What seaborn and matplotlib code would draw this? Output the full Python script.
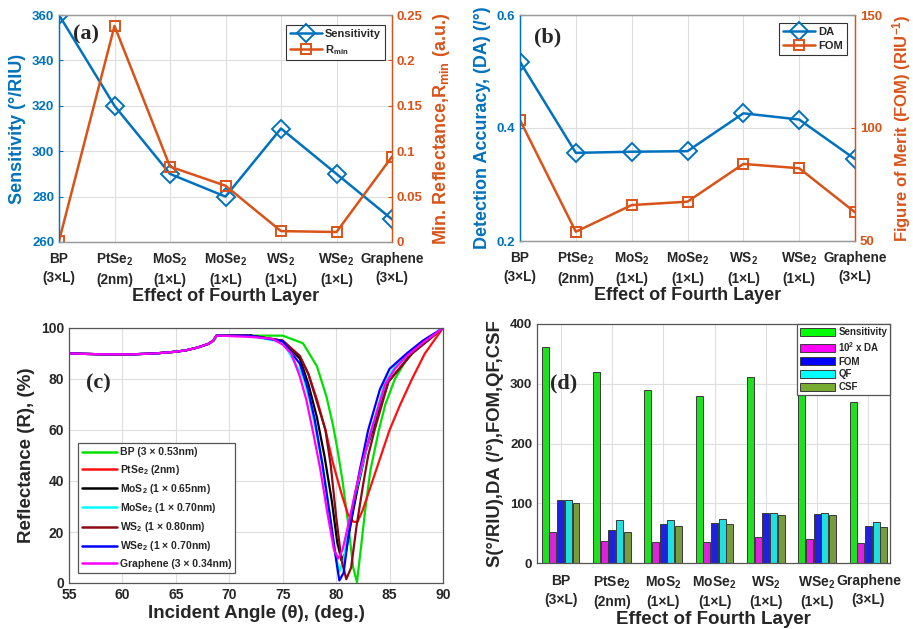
import matplotlib
matplotlib.use("Agg")
import matplotlib.pyplot as plt
import numpy as np
import pandas as pd
import seaborn as sns
from matplotlib.lines import Line2D
from matplotlib.patches import Patch

# ---------------- data ----------------
categories = ["BP\n(3×L)", "PtSe$_2$\n(2nm)", "MoS$_2$\n(1×L)", "MoSe$_2$\n(1×L)",
              "WS$_2$\n(1×L)", "WSe$_2$\n(1×L)", "Graphene\n(3×L)"]
sensitivity = [360, 320, 290, 280, 310, 290, 270]
r_min = [0.001, 0.238, 0.083, 0.062, 0.012, 0.011, 0.094]
detection_accuracy = [0.517, 0.356, 0.358, 0.359, 0.426, 0.415, 0.345]
fom = [103.5, 54.1, 65.9, 67.4, 84.1, 82.2, 62.7]

# panel (d) bars
bar_sensitivity = [361, 320, 290, 280, 311, 290, 270]
bar_da_x100 = [52, 36, 35, 35, 43, 41, 33]
bar_fom = [105, 55, 65, 67, 83, 82, 62]
bar_qf = [105, 72, 72, 73, 84, 83, 69]
bar_csf = [101, 52, 62, 65, 81, 80, 60]
metric_names = ["Sensitivity", "10$^2$ x DA", "FOM", "QF", "CSF"]

# panel (c) reflectance curves
layer_names = ["BP (3 × 0.53nm)", "PtSe$_2$ (2nm)", "MoS$_2$ (1 × 0.65nm)",
               "MoSe$_2$ (1 × 0.70nm)", "WS$_2$ (1 × 0.80nm)",
               "WSe$_2$ (1 × 0.70nm)", "Graphene (3 × 0.34nm)"]
angle_common = [55, 58, 61, 63, 65, 66, 67, 68, 68.5, 68.8]
refl_common = [90, 89.7, 89.7, 90, 90.7, 91.3, 92.3, 93.7, 95, 97]

angle_bp = [69, 72, 75, 76.9, 78.2, 79.1, 79.7, 80.1, 80.6, 81.1, 81.6, 81.95, 82.3, 82.7, 83.2, 84.0, 84.6, 85.5, 86.9, 88.4, 90]
refl_bp = [97, 97, 97, 94, 85, 73, 62, 53, 40, 24, 6, 0.3, 13, 28, 44, 60, 70, 80, 90, 95, 100]
angle_ptse2 = [69, 72, 75, 76.6, 77.4, 78.2, 79.0, 79.7, 80.5, 81.1, 81.6, 82.0, 82.5, 83.4, 84.2, 85.0, 86.0, 87.1, 88.3, 90]
refl_ptse2 = [97, 97, 95, 89, 82, 72, 60, 47, 35, 27, 24, 24, 28.7, 40, 50, 60, 70, 80, 90, 100]
angle_mos2 = [69, 72, 75, 76.6, 77.4, 78.2, 78.9, 79.6, 80.1, 80.5, 80.9, 81.4, 82.0, 82.8, 83.5, 84.9, 87.1, 90]
refl_mos2 = [97, 97, 95, 88, 78, 65, 50, 32, 16, 9, 12, 24, 37, 52, 61, 79, 90, 100]
angle_mose2 = [69, 72, 75, 76.9, 77.5, 78.1, 78.8, 79.4, 79.9, 80.3, 80.7, 81.2, 81.8, 82.5, 83.3, 84.5, 85.5, 86.6, 88.2, 90]
refl_mose2 = [97, 96.8, 94.5, 81, 72, 60, 44, 27, 12, 4.5, 9, 22, 35, 47, 60, 78, 85, 89.5, 95, 100]
angle_ws2 = [69, 72, 75, 76.6, 77.4, 78.2, 79.0, 79.5, 80.0, 80.5, 80.95, 81.4, 81.9, 82.5, 83.0, 83.6, 84.9, 87.1, 90]
refl_ws2 = [97, 97, 95, 89, 82, 71, 60, 46, 26, 9, 1.5, 6, 22, 38, 50, 60, 79, 90, 100]
angle_wse2 = [69, 72, 75, 76.6, 77.3, 78.0, 78.7, 79.4, 80.0, 80.3, 80.7, 81.1, 81.7, 82.2, 83.0, 84.1, 85.0, 86.6, 88.1, 90]
refl_wse2 = [97, 97, 94.8, 86, 77, 64, 47, 27, 9, 1, 4, 17, 33, 44, 60, 76, 84, 90, 95, 100]
angle_graphene = [69, 72, 74, 75, 75.8, 76.6, 77.2, 77.8, 78.5, 79.2, 79.8, 80.2, 80.6, 81.2, 81.8, 82.5, 83.3, 84.6, 85.5, 86.6, 88.2, 90]
refl_graphene = [97, 96.5, 95.8, 93.5, 90, 81, 72, 60, 45, 27, 13, 9.6, 13, 24, 36, 48, 60, 78, 84, 89, 94.5, 100]

# ---------------- style ----------------
BLUE = "#0072BD"
ORANGE = "#D95319"
GRID = "#dedede"
line_colors = ["#00e000", "#ff1010", "#000000", "#00ffff", "#8b0a14", "#0000ff", "#ff00ff"]
bar_colors = ["#00ff00", "#ff00ff", "#0000ff", "#00ffff", "#77ac30"]

sns.set_style("white")
plt.rcParams.update({
    "font.family": ["Liberation Sans", "DejaVu Sans"],
    "font.weight": "bold",
    "axes.labelweight": "bold",
    "mathtext.fontset": "custom",
    "mathtext.rm": "Liberation Sans:bold",
    "mathtext.bf": "Liberation Sans:bold",
    "mathtext.it": "Liberation Sans:bold",
    "mathtext.sf": "Liberation Sans:bold",
    "mathtext.default": "bf",
})

W, H = 913, 629
fig = plt.figure(figsize=(W / 100, H / 100), dpi=100)


def rect(l, t, r, b):
    return [l / W, 1 - b / H, (r - l) / W, (b - t) / H]


pos = list(range(len(categories)))
df_ab = pd.DataFrame({"pos": pos, "sens": sensitivity, "rmin": r_min,
                      "da": detection_accuracy, "fom": fom})


def twin_panel(box, ycol1, ycol2, ylim1, yt1, ylim2, yt2, yt2lab, lab1, lab2,
               leglabels, legpos, panel, ppos, labsize2):
    ax = fig.add_axes(rect(*box))
    sns.lineplot(data=df_ab, x="pos", y=ycol1, ax=ax, color=BLUE, linewidth=1.8,
                 marker="D", markersize=9, markerfacecolor="none",
                 markeredgecolor=BLUE, markeredgewidth=1.4)
    ax2 = ax.twinx()
    sns.lineplot(data=df_ab, x="pos", y=ycol2, ax=ax2, color=ORANGE, linewidth=1.8,
                 marker="s", markersize=7, markerfacecolor="none",
                 markeredgecolor=ORANGE, markeredgewidth=1.4)
    ax.set_xlim(0, 6)
    ax.set_ylim(*ylim1)
    ax.set_yticks(yt1)
    ax2.set_ylim(*ylim2)
    ax2.set_yticks(yt2, yt2lab)
    ax.set_xticks(pos, categories)
    for t in ax.get_xticklabels():
        t.set_linespacing(1.45)
    ax.grid(True, color=GRID, lw=0.8)
    ax.set_axisbelow(True)
    ax.tick_params(axis="y", colors=BLUE, labelsize=9.5, direction="in", length=3)
    ax.tick_params(axis="x", labelsize=9.8, direction="in", length=3, pad=7)
    ax2.tick_params(axis="y", colors=ORANGE, labelsize=9.5, direction="in", length=3)
    ax.set_xlabel("Effect of Fourth Layer", fontsize=13, fontweight="bold", labelpad=1)
    ax.set_ylabel(lab1, color=BLUE, fontsize=13, fontweight="bold", labelpad=4)
    ax2.set_ylabel(lab2, color=ORANGE, fontsize=labsize2, fontweight="bold", labelpad=6)
    for a in (ax, ax2):
        a.spines["left"].set_color(BLUE)
        a.spines["right"].set_color(ORANGE)
        a.spines["top"].set_color("#9a9a9a")
        a.spines["bottom"].set_color("#9a9a9a")
        for s in a.spines.values():
            s.set_linewidth(0.9)
    handles = [Line2D([], [], color=BLUE, lw=1.8, marker="D", markersize=9, mfc="none",
                      mec=BLUE, mew=1.4),
               Line2D([], [], color=ORANGE, lw=1.8, marker="s", markersize=7, mfc="none",
                      mec=ORANGE, mew=1.4)]
    leg = ax2.legend(handles, leglabels, loc="upper right", bbox_to_anchor=legpos,
                     borderaxespad=0, fontsize=8, frameon=True, fancybox=False,
                     edgecolor="#333333", framealpha=1, handlelength=2.9,
                     handletextpad=0.3, borderpad=0.35, labelspacing=0.35)
    leg.get_frame().set_linewidth(0.8)
    ax2.text(ppos[0], ppos[1], panel, transform=ax.transAxes, fontsize=16,
             fontweight="bold", family="Liberation Serif", va="top", ha="left")
    return ax, ax2


# ---- (a) ----
twin_panel((59, 15, 392, 242), "sens", "rmin", (260, 360), [260, 280, 300, 320, 340, 360],
           (0, 0.25), [0, 0.05, 0.1, 0.15, 0.2, 0.25], ["0", "0.05", "0.1", "0.15", "0.2", "0.25"],
           "Sensitivity (°/RIU)", "Min. Reflectance,R$_{min}$ (a.u.)",
           ["Sensitivity", "R$_{min}$"], (0.979, 0.956), "(a)", (0.042, 0.958), 13)

# ---- (b) ----
twin_panel((520, 15, 855, 241), "da", "fom", (0.2, 0.6), [0.2, 0.4, 0.6],
           (50, 150), [50, 100, 150], ["50", "100", "150"],
           "Detection Accuracy, (DA) (/°)", "Figure of Merit (FOM) (RIU$^{-1}$)",
           ["DA", "FOM"], (0.976, 0.965), "(b)", (0.042, 0.945), 12)

# ---- (c) ----
angles = [angle_bp, angle_ptse2, angle_mos2, angle_mose2, angle_ws2, angle_wse2, angle_graphene]
refls = [refl_bp, refl_ptse2, refl_mos2, refl_mose2, refl_ws2, refl_wse2, refl_graphene]
rows = []
for name, a_list, r_list in zip(layer_names, angles, refls):
    for a, r in zip(angle_common + a_list, refl_common + r_list):
        rows.append((name, a, r))
df_c = pd.DataFrame(rows, columns=["layer", "angle", "refl"])

axC = fig.add_axes(rect(69, 328, 443, 583))
sns.lineplot(data=df_c, x="angle", y="refl", hue="layer", hue_order=layer_names,
             palette=line_colors, estimator=None, sort=False, linewidth=1.6,
             legend=False, ax=axC)
axC.set_xlim(55, 90)
axC.set_ylim(0, 100)
axC.set_xticks([55, 60, 65, 70, 75, 80, 85, 90])
axC.set_yticks([0, 20, 40, 60, 80, 100])
axC.grid(True, color=GRID, lw=0.8)
axC.set_axisbelow(True)
axC.tick_params(labelsize=10, direction="in", length=3)
axC.set_xlabel("Incident Angle (θ), (deg.)", fontsize=13.5, fontweight="bold", labelpad=2)
axC.set_ylabel("Reflectance (R), (%)", fontsize=13.5, fontweight="bold", labelpad=4)
for s in axC.spines.values():
    s.set_color("#555555")
    s.set_linewidth(0.9)
hC = [Line2D([], [], color=c, lw=1.8) for c in line_colors]
legC = axC.legend(hC, layer_names, loc="lower left", bbox_to_anchor=(0.024, 0.04),
                  borderaxespad=0, fontsize=7.5, frameon=True, fancybox=False,
                  edgecolor="#555555", framealpha=1, handlelength=3.3,
                  handletextpad=0.3, labelspacing=0.5, borderpad=0.4)
legC.get_frame().set_linewidth(0.9)
axC.text(0.045, 0.82, "(c)", transform=axC.transAxes, fontsize=16, fontweight="bold",
         family="Liberation Serif", va="top", ha="left")

# ---- (d) ----
bar_values = [bar_sensitivity, bar_da_x100, bar_fom, bar_qf, bar_csf]
rows = []
for m, vals in zip(metric_names, bar_values):
    for cat, v in zip(categories, vals):
        rows.append((cat, m, v))
df_d = pd.DataFrame(rows, columns=["layer", "metric", "value"])

axD = fig.add_axes(rect(537, 324, 890, 563))
sns.barplot(data=df_d, x="layer", y="value", hue="metric", hue_order=metric_names,
            order=categories, palette=bar_colors, width=0.75, gap=0.1,
            edgecolor="#3a3a3a", linewidth=0.7, errorbar=None, legend=False, ax=axD)
axD.set_xlim(-0.46, 6.42)
axD.set_ylim(0, 400)
axD.set_yticks([0, 100, 200, 300, 400])
for t in axD.get_xticklabels():
    t.set_linespacing(1.45)
axD.grid(True, color=GRID, lw=0.8)
axD.set_axisbelow(True)
axD.tick_params(axis="y", labelsize=9.5, direction="in", length=3)
axD.tick_params(axis="x", labelsize=10, direction="in", length=3, pad=8)
axD.set_xlabel("Effect of Fourth Layer", fontsize=13.5, fontweight="bold", labelpad=1)
axD.set_ylabel("S(°/RIU),DA (/°),FOM,QF,CSF", fontsize=13.3, fontweight="bold", labelpad=4)
for s in axD.spines.values():
    s.set_color("#555555")
    s.set_linewidth(0.9)
hD = [Patch(facecolor=c, edgecolor="#3a3a3a", linewidth=0.7) for c in bar_colors]
legD = axD.legend(hD, metric_names, loc="upper right", borderaxespad=0, fontsize=7,
                  frameon=True, fancybox=False, edgecolor="#555555", framealpha=1,
                  handlelength=3.6, handleheight=0.9, handletextpad=0.3,
                  labelspacing=0.3, borderpad=0.3)
legD.get_frame().set_linewidth(0.9)
axD.text(0.037, 0.795, "(d)", transform=axD.transAxes, fontsize=16, fontweight="bold",
         family="Liberation Serif", va="top", ha="left")

fig.savefig("out.png", dpi=100)
